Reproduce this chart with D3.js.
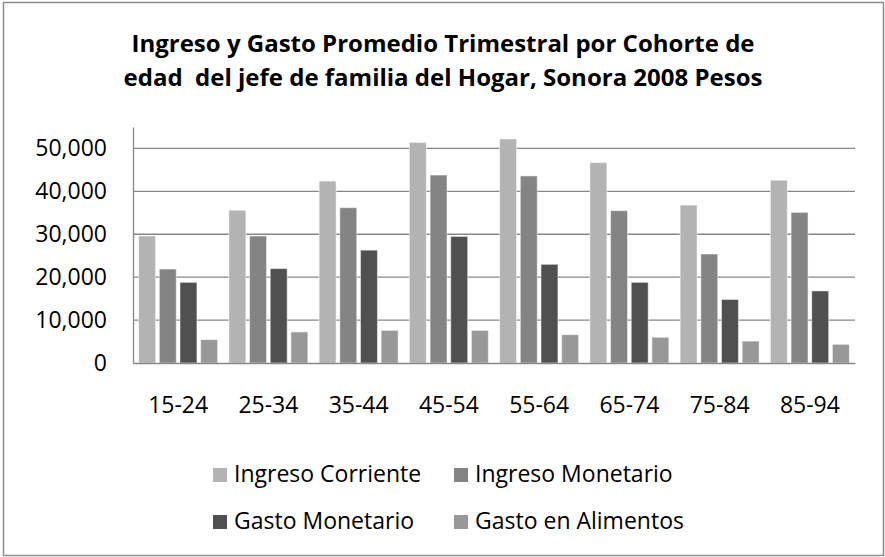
<!DOCTYPE html>
<html>
<head>
<meta charset="utf-8">
<script src="https://cdn.jsdelivr.net/npm/d3@7"></script>
<style>
  body { margin: 0; background: #fff; }
  svg { display: block; font-family: "Open Sans", Lato, sans-serif; }
</style>
</head>
<body>
<svg id="svg-board" width="885" height="557"></svg>
<script>
// datos
const categories = ["15-24", "25-34", "35-44", "45-54", "55-64", "65-74", "75-84", "85-94"];
const seriesNames = ["Ingreso Corriente", "Ingreso Monetario", "Gasto Monetario", "Gasto en Alimentos"];
const ingresoCorriente = [29600, 35600, 42400, 51400, 52200, 46700, 36800, 42600];
const ingresoMonetario = [21900, 29600, 36200, 43800, 43600, 35500, 25400, 35100];
const gastoMonetario = [18800, 22000, 26300, 29500, 23000, 18800, 14800, 16800];
const gastoAlimentos = [5450, 7250, 7600, 7600, 6600, 6000, 5100, 4350];
const yTicks = [0, 10000, 20000, 30000, 40000, 50000];
const titleLines = ["Ingreso y Gasto Promedio Trimestral por Cohorte de",
                    "edad  del jefe de familia del Hogar, Sonora 2008 Pesos"];

const colors = ["#b3b3b3", "#848484", "#505050", "#989898"];
const values = [ingresoCorriente, ingresoMonetario, gastoMonetario, gastoAlimentos];

const plot = { left: 133, right: 855, top: 127, bottom: 363 };

let svg = d3.select("#svg-board");

let xScale = d3.scaleBand()
    .domain(categories)
    .range([plot.left, plot.right])
    .paddingInner(0.125)
    .paddingOuter(0.0625);

let xInner = d3.scaleBand()
    .domain(seriesNames)
    .range([0, xScale.bandwidth()])
    .paddingInner(0.18);

let yScale = d3.scaleLinear()
    .domain([0, 55000])
    .range([plot.bottom, plot.top]);

// marco exterior
svg.append("rect")
    .attr("x", 3.5).attr("y", 2.5)
    .attr("width", 880).attr("height", 553)
    .attr("fill", "none")
    .attr("stroke", "#8c8c8c")
    .attr("stroke-width", 1.5);

// titulo
svg.selectAll(".title")
    .data(titleLines)
    .enter().append("text")
    .attr("class", "title")
    .attr("x", 443)
    .attr("y", (d, i) => 52 + i * 34)
    .attr("text-anchor", "middle")
    .attr("font-size", 24)
    .attr("font-weight", "bold")
    .attr("fill", "#000")
    .style("white-space", "pre")
    .text(d => d);

// lineas de cuadricula
svg.selectAll(".grid")
    .data(yTicks.filter(v => v > 0))
    .enter().append("line")
    .attr("x1", plot.left).attr("x2", plot.right)
    .attr("y1", d => yScale(d)).attr("y2", d => yScale(d))
    .attr("stroke", "#878787")
    .attr("stroke-width", 1.3);

// eje y
let yAxis = d3.axisLeft(yScale)
    .tickValues(yTicks)
    .tickFormat(d3.format(","))
    .tickSize(0)
    .tickPadding(26);

let gy = svg.append("g")
    .attr("transform", `translate(${plot.left},0)`)
    .call(yAxis);
gy.select(".domain").attr("stroke", "#878787").attr("stroke-width", 1.3);
gy.selectAll("text")
    .attr("font-size", 23)
    .attr("font-family", "'Open Sans', sans-serif")
    .attr("fill", "#000");

// barras
categories.forEach(function(cat, ci) {
    seriesNames.forEach(function(name, si) {
        let v = values[si][ci];
        svg.append("rect")
            .attr("x", xScale(cat) + xInner(name))
            .attr("y", yScale(v))
            .attr("width", xInner.bandwidth())
            .attr("height", yScale(0) - yScale(v))
            .attr("fill", colors[si])
            .attr("stroke", "#ffffff")
            .attr("stroke-opacity", 0.5)
            .attr("stroke-width", 1);
    });
});

// eje x
let xAxis = d3.axisBottom(xScale)
    .tickSize(0)
    .tickPadding(34);

let gx = svg.append("g")
    .attr("transform", `translate(0,${plot.bottom})`)
    .call(xAxis);
gx.select(".domain").attr("stroke", "#878787").attr("stroke-width", 1.3);
gx.selectAll("text")
    .attr("font-size", 23)
    .attr("font-family", "'Open Sans', sans-serif")
    .attr("fill", "#000");

// leyenda
const legendPos = [[213, 468], [454, 468], [213, 515], [454, 515]];
seriesNames.forEach(function(name, i) {
    let p = legendPos[i];
    svg.append("rect")
        .attr("x", p[0]).attr("y", p[1])
        .attr("width", 14).attr("height", 14)
        .attr("fill", colors[i]);
    svg.append("text")
        .attr("x", p[0] + 21)
        .attr("y", p[1] + 14)
        .attr("font-size", 23)
        .attr("fill", "#000")
        .text(name);
});
</script>
</body>
</html>
